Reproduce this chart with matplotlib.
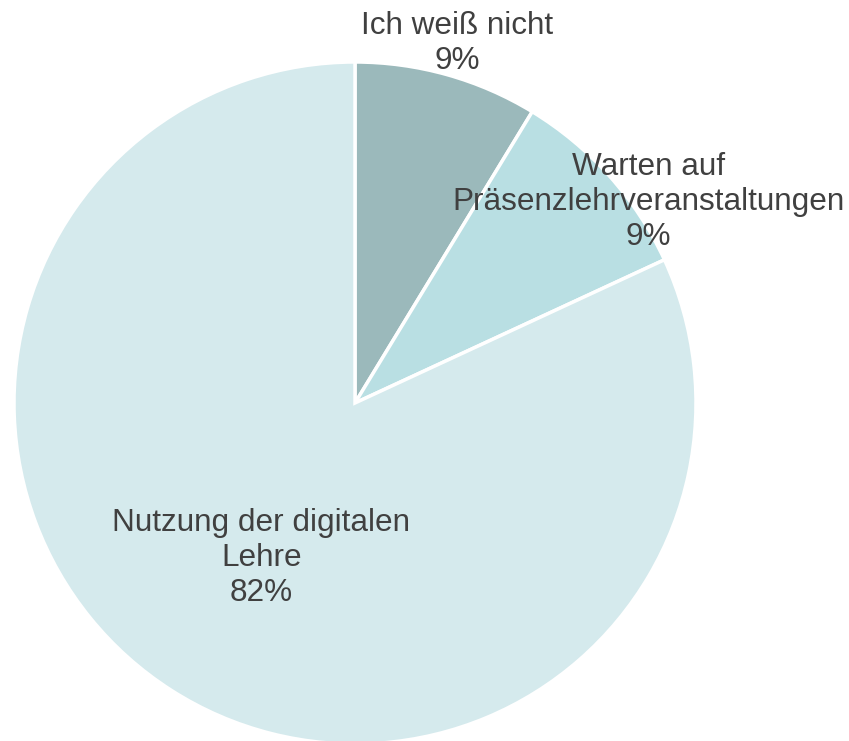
import matplotlib.pyplot as plt

plt.rcParams['font.family'] = ['Liberation Sans', 'DejaVu Sans']

categories = ['Ich weiß nicht', 'Warten auf\nPräsenzlehrveranstaltungen', 'Nutzung der digitalen\nLehre']
shares = [8.7, 9.4, 81.9]
colors = ['#9bb9bb', '#b9dfe3', '#d5eaed']
# where the labels sit, in pie units (radius 1)
label_pos = [(0.30, 1.055), (0.86, 0.59), (-0.275, -0.455)]

fig = plt.figure(figsize=(8.49, 7.41), dpi=100)
ax = fig.add_axes([0, 0, 1, 1])

wedges, _ = ax.pie(shares, colors=colors, startangle=90, counterclock=False,
                   center=(0, 0), radius=1,
                   wedgeprops=dict(edgecolor='white', linewidth=2.5))

for name, s, (x, y) in zip(categories, shares, label_pos):
    ax.text(x, y, '%s\n%d%%' % (name, round(s)),
            ha='center', va='center', fontsize=22.7, color='#404040',
            linespacing=1.22)

# pie centre at (355, 403) px, radius ~341 px
sc = 341.0
ax.set_xlim(-355 / sc, (849 - 355) / sc)
ax.set_ylim(-(741 - 403) / sc, 403 / sc)
ax.set_aspect('auto')
ax.axis('off')

fig.savefig('out.png', dpi=100)
